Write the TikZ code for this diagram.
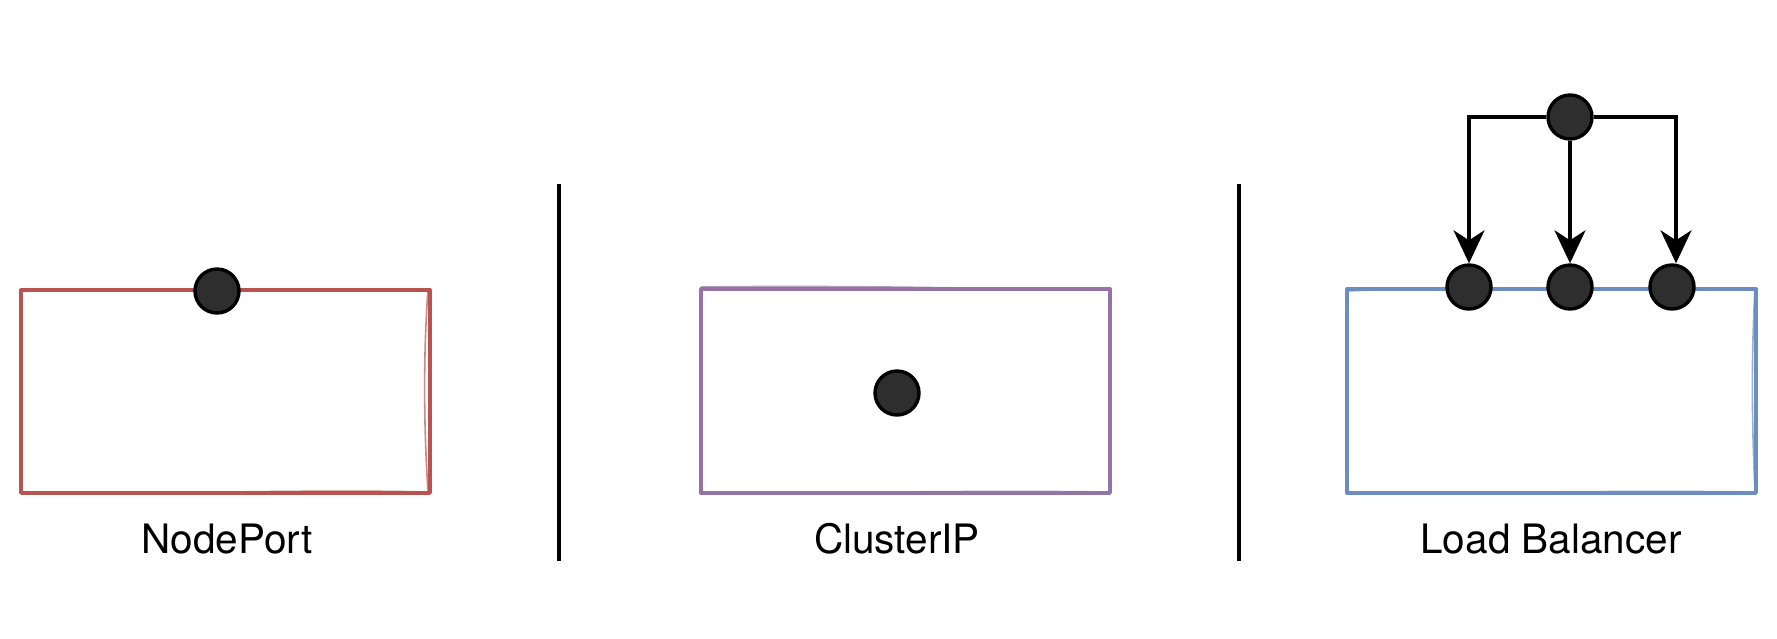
\documentclass[tikz,border=0pt]{standalone}
\usepackage{fontspec}
\setmainfont{TeX Gyre Heros}
\usetikzlibrary{arrows.meta}
\definecolor{npred}{HTML}{B85450}
\definecolor{cipurple}{HTML}{9673A6}
\definecolor{lbblue}{HTML}{6C8EBF}
\definecolor{dotfill}{HTML}{2E2E2E}
\tikzset{
  svcbox/.style={draw=#1, line width=3.4pt, line join=round},
  sketch/.style={draw=#1, line width=1.6pt, opacity=0.7},
  dot/.style={circle, draw=black, fill=dotfill, line width=3.4pt, minimum size=44pt, inner sep=0pt},
  lbl/.style={font=\fontsize{40.5}{42}\selectfont, text=black},
  divider/.style={draw=black, line width=3.2pt},
  flow/.style={draw=black, line width=3.4pt, -{Stealth[length=33pt, width=31pt, inset=10pt]}}
}
\begin{document}
\begin{tikzpicture}[x=1pt, y=-1pt]
\useasboundingbox (0,0) rectangle (1777,638);
% NodePort
\draw[svcbox=npred] (21,290) -- (430,290) -- (430,493) -- (21,493) -- cycle;
\draw[sketch=npred] (22,291) .. controls (200,288) and (330,292) .. (428,289)
  .. controls (423,360) and (424,430) .. (428,492)
  .. controls (300,489) and (150,495) .. (22,492) -- cycle;
\node[dot] (np) at (217,291) {};
\node[lbl] (nplabel) at (227,539) {NodePort};
% divider 1
\coordinate (d1t) at (559,184);
\coordinate (d1b) at (559,561);
\draw[divider] (d1t) -- (d1b);
% ClusterIP
\draw[svcbox=cipurple] (701,289) -- (1110,289) -- (1110,493) -- (701,493) -- cycle;
\draw[sketch=cipurple] (702,287) .. controls (850,285) and (1000,289) .. (1109,290)
  .. controls (1111,360) and (1108,430) .. (1111,492)
  .. controls (950,490) and (820,494) .. (702,492) -- cycle;
\node[dot] (ci) at (897,393) {};
\node[lbl] (cilabel) at (897,539) {ClusterIP};
% divider 2
\coordinate (d2t) at (1239,184);
\coordinate (d2b) at (1239,561);
\draw[divider] (d2t) -- (d2b);
% Load Balancer
\draw[svcbox=lbblue] (1347,289) -- (1756,289) -- (1756,493) -- (1347,493) -- cycle;
\draw[sketch=lbblue] (1348,291) .. controls (1450,286) and (1600,289) .. (1755,288)
  .. controls (1751,360) and (1752,430) .. (1755,492)
  .. controls (1600,490) and (1450,494) .. (1348,492) -- cycle;
\node[dot] (lb1) at (1469,287) {};
\node[dot] (lb2) at (1570,287) {};
\node[dot] (lb3) at (1672,287) {};
\node[dot] (lbtop) at (1570,117) {};
\draw[flow] (lbtop.west) -| (lb1.north);
\draw[flow] (lbtop.south) -- (lb2.north);
\draw[flow] (lbtop.east) -| ([xshift=4pt]lb3.north);
\node[lbl] (lblabel) at (1551,539) {Load Balancer};
\end{tikzpicture}
\end{document}
